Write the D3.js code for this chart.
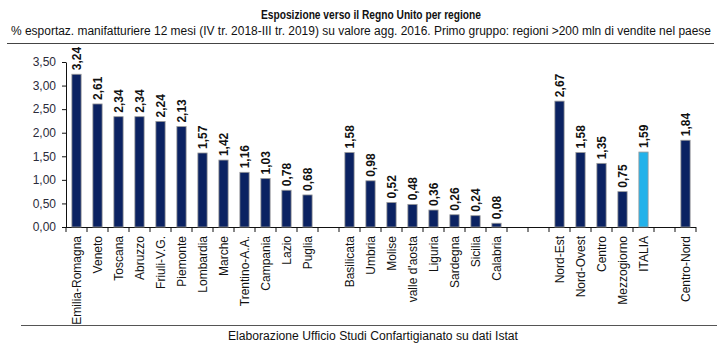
<!DOCTYPE html>
<html>
<head>
<meta charset="utf-8">
<script src="https://cdn.jsdelivr.net/npm/d3@7"></script>
<style>
  body { margin: 0; background: #fff; }
  svg { display: block; }
  text { font-family: "Liberation Sans Narrow", "Arial Narrow", "Liberation Sans", Arial, sans-serif; }
</style>
</head>
<body>
<svg id="chart" width="717" height="346"></svg>
<script>
const categories = ["Emilia-Romagna","Veneto","Toscana","Abruzzo","Friuli-V.G.","Piemonte","Lombardia","Marche","Trentino-A.A.","Campania","Lazio","Puglia","",
  "Basilicata","Umbria","Molise","valle d'aosta","Liguria","Sardegna","Sicilia","Calabria","","",
  "Nord-Est","Nord-Ovest","Centro","Mezzogiorno","ITALIA","","Centro-Nord"];
const values = [3.24,2.61,2.34,2.34,2.24,2.13,1.57,1.42,1.16,1.03,0.78,0.68,null,
  1.58,0.98,0.52,0.48,0.36,0.26,0.24,0.08,null,null,
  2.67,1.58,1.35,0.75,1.59,null,1.84];
const yTicks = [0,0.5,1,1.5,2,2.5,3,3.5];
const highlight = "ITALIA";
const title = "Esposizione verso il Regno Unito per regione";
const subtitle = "% esportaz. manifatturiere 12 mesi (IV tr. 2018-III tr. 2019) su valore agg. 2016. Primo gruppo: regioni >200 mln di vendite nel paese";
const footer = "Elaborazione Ufficio Studi Confartigianato su dati Istat";

const svg = d3.select("#chart");
const fmt = v => d3.format(".2f")(v).replace(".", ",");

const slots = categories.map((c, i) => ({key: i, label: c, value: values[i]}));
const x = d3.scaleBand().domain(slots.map(d => d.key)).range([66, 696]).paddingInner(0.56).paddingOuter(0.28);
const y = d3.scaleLinear().domain([0, 3.5]).range([227, 62]);

// Title
svg.append("text").attr("x", 371).attr("y", 19).attr("text-anchor", "middle")
  .attr("font-size", 12.5).attr("font-weight", "bold").attr("fill", "#111")
  .attr("textLength", 220).attr("lengthAdjust", "spacingAndGlyphs").text(title);
svg.append("text").attr("x", 361).attr("y", 35).attr("text-anchor", "middle")
  .attr("font-size", 12).attr("fill", "#111")
  .attr("textLength", 700).attr("lengthAdjust", "spacingAndGlyphs").text(subtitle);
svg.append("line").attr("x1", 7).attr("x2", 714).attr("y1", 43.5).attr("y2", 43.5)
  .attr("stroke", "#444").attr("stroke-width", 1);

// Y axis
const yAxis = svg.append("g").attr("transform", "translate(66,0)")
  .call(d3.axisLeft(y).tickValues(yTicks).tickFormat(fmt).tickSize(4).tickSizeOuter(0));
yAxis.select(".domain").attr("stroke", "#111");
yAxis.selectAll(".tick line").attr("stroke", "#111");
yAxis.selectAll(".tick text").attr("font-size", 12).attr("fill", "#2b2b3a")
  .attr("font-family", "Liberation Sans, Arial, sans-serif").attr("x", -10);

// X axis line and ticks at slot boundaries
const step = x.step();
const x0 = 66;
const boundaries = d3.range(categories.length + 1).map(i => x0 + i * (630 / categories.length));
svg.append("line").attr("x1", 66).attr("x2", 696).attr("y1", 227.5).attr("y2", 227.5)
  .attr("stroke", "#111").attr("stroke-width", 1.2);
svg.append("g").selectAll("line").data(boundaries).join("line")
  .attr("x1", d => d).attr("x2", d => d).attr("y1", 227).attr("y2", 232)
  .attr("stroke", "#111");

// Bars
const barData = slots.filter(d => d.value != null);
svg.append("g").selectAll("rect").data(barData).join("rect")
  .attr("x", d => x(d.key)).attr("width", x.bandwidth())
  .attr("y", d => y(d.value)).attr("height", d => y(0) - y(d.value))
  .attr("fill", d => d.label === highlight ? "#22b2ea" : "#0b2262")
  .attr("stroke", "#9a9a9a").attr("stroke-width", 0.8);

// Value labels
svg.append("g").selectAll("text").data(barData).join("text")
  .attr("transform", d => `translate(${x(d.key) + x.bandwidth() / 2},${y(d.value) - 4}) rotate(-90)`)
  .attr("dy", "0.35em").attr("text-anchor", "start")
  .attr("font-size", 12).attr("font-weight", "bold").attr("fill", "#111")
  .attr("font-family", "Liberation Sans, Arial, sans-serif")
  .text(d => fmt(d.value));

// Category labels
svg.append("g").selectAll("text").data(slots.filter(d => d.label)).join("text")
  .attr("transform", d => `translate(${x(d.key) + x.bandwidth() / 2},236) rotate(-90)`)
  .attr("dy", "0.35em").attr("text-anchor", "end")
  .attr("font-size", 12).attr("fill", "#111")
  .attr("font-family", "Liberation Sans, Arial, sans-serif")
  .text(d => d.label);

// Footer
svg.append("line").attr("x1", 21).attr("x2", 717).attr("y1", 325.5).attr("y2", 325.5)
  .attr("stroke", "#555").attr("stroke-width", 1);
svg.append("text").attr("x", 373).attr("y", 340).attr("text-anchor", "middle")
  .attr("font-size", 12).attr("fill", "#111")
  .attr("textLength", 290).attr("lengthAdjust", "spacingAndGlyphs").text(footer);
</script>
</body>
</html>
